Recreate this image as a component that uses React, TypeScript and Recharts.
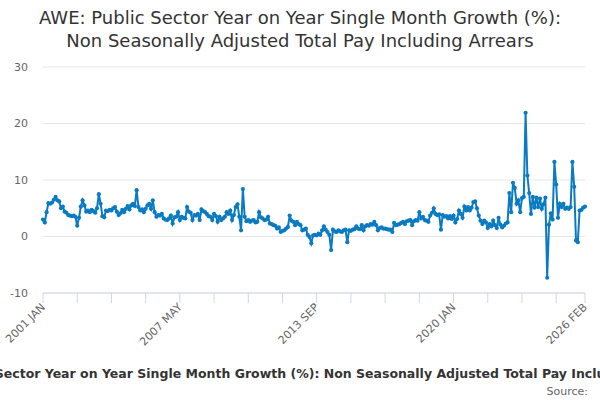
import { LineChart, Line, XAxis, YAxis, CartesianGrid } from 'recharts';

const MONTHS = ['JAN', 'FEB', 'MAR', 'APR', 'MAY', 'JUN', 'JUL', 'AUG', 'SEP', 'OCT', 'NOV', 'DEC'];
const FIRST_YEAR = 2001;

// monthly values, 2001 JAN .. 2026 FEB, one row per year
const growth = [
  3.0, 2.5, 4.3, 5.9, 5.8, 6.0, 6.5, 7.0, 6.4, 6.2, 5.0, 5.3,
  4.4, 4.2, 3.8, 3.7, 3.6, 3.7, 3.5, 1.9, 3.3, 5.3, 6.4, 5.5,
  4.4, 4.6, 4.3, 4.7, 4.5, 4.2, 5.0, 7.5, 5.8, 3.6, 3.4, 4.6,
  4.5, 4.7, 4.6, 5.0, 5.2, 4.4, 3.8, 4.1, 4.7, 4.3, 4.9, 5.4,
  4.8, 5.5, 5.8, 5.4, 8.2, 5.2, 4.6, 4.8, 4.3, 4.9, 5.5, 5.8,
  4.9, 6.4, 4.3, 3.5, 3.8, 3.7, 4.0, 3.2, 3.0, 2.9, 3.2, 3.7,
  2.3, 3.4, 3.5, 4.3, 2.9, 3.5, 3.3, 3.2, 5.2, 4.4, 4.2, 2.9,
  3.8, 3.7, 4.0, 2.9, 4.8, 4.5, 4.3, 4.0, 3.6, 3.5, 2.9, 4.0,
  3.6, 2.6, 3.5, 2.9, 3.2, 3.5, 4.3, 4.0, 4.6, 2.9, 3.8, 5.2,
  5.7, 3.5, 1.1, 8.4, 3.5, 2.7, 2.9, 2.6, 2.8, 2.9, 2.5, 2.6,
  4.3, 3.4, 3.2, 2.9, 3.0, 3.5, 2.3, 2.2, 2.0, 1.9, 1.4, 1.6,
  0.8, 1.0, 1.1, 1.4, 1.7, 3.7, 2.8, 2.6, 2.0, 2.6, 2.2, 2.0,
  1.1, 1.2, 1.4, 0.3, -0.1, -1.2, 0.2, 0.3, 0.2, 0.5, 0.3, 1.1,
  1.8, 1.2, 0.8, 0.3, -2.4, 1.2, 0.9, 0.8, 1.1, 0.9, 0.8, 1.1,
  1.2, -1.0, 1.1, 1.0, 1.2, 1.3, 1.8, 1.4, 1.3, 2.0, 1.1, 1.8,
  2.0, 1.9, 2.2, 2.1, 2.6, 2.0, 1.1, 1.5, 1.6, 1.4, 1.4, 1.3,
  1.2, 1.2, 0.8, 2.4, 2.0, 2.1, 2.2, 2.4, 2.6, 2.2, 2.7, 2.8,
  2.9, 2.0, 2.7, 2.9, 2.8, 4.3, 3.2, 3.5, 2.9, 2.8, 2.6, 3.7,
  4.2, 5.0, 4.0, 3.8, 3.9, 1.2, 3.8, 3.5, 3.6, 3.2, 3.6, 3.1,
  3.7, 2.5, 3.1, 4.6, 4.0, 3.3, 5.3, 4.6, 5.2, 4.6, 5.1, 6.1,
  6.2, 5.0, 3.7, 2.8, 2.2, 2.8, 2.5, 1.5, 2.2, 1.8, 2.8, 2.0,
  1.5, 3.3, 2.1, 1.6, 1.9, 2.3, 2.5, 7.7, 4.3, 9.5, 8.6, 5.8,
  6.4, 4.3, 6.8, 7.0, 21.9, 10.8, 7.7, 4.0, 7.0, 5.1, 6.9, 5.2,
  6.7, 4.9, 5.7, 6.9, -7.3, 2.1, 4.1, 3.0, 13.2, 9.2, 3.3, 5.8,
  5.2, 5.8, 4.9, 5.1, 4.9, 5.2, 13.2, 8.8, -0.7, -1.0, 4.6, 4.7,
  5.1, 5.3,
];

const labelTicks = ['2001 JAN', '2007 MAY', '2013 SEP', '2020 JAN', '2026 FEB'];
const yTicks = [-10, 0, 10, 20, 30];

const data = growth.map((value, i) => ({
  date: `${FIRST_YEAR + Math.floor(i / 12)} ${MONTHS[i % 12]}`,
  value,
}));

// minor tick every 19 months plus the last month
const xTicks = data.filter((_, i) => i % 19 === 0 && i + 19 <= data.length + 2).map((d) => d.date);
xTicks.push(data[data.length - 1].date);

const TITLE = 'AWE: Public Sector Year on Year Single Month Growth (%): Non Seasonally Adjusted Total Pay Including Arrears';

function DateTick({ x, y, payload }: any) {
  if (!labelTicks.includes(payload.value)) return null;
  return (
    <text
      x={x}
      y={y}
      dy={4}
      textAnchor="end"
      transform={`rotate(-45, ${x}, ${y})`}
      fill="#666666"
      fontSize={11}
      fontFamily="DejaVu Sans"
    >
      {payload.value}
    </text>
  );
}

export default function App() {
  return (
    <div style={{ position: 'absolute', left: 0, top: 0, width: 600, height: 400, background: '#fff' }}>
      <LineChart
        width={600}
        height={400}
        data={data}
        margin={{ top: 67, right: 15, left: 0, bottom: 47 }}
      >
        <CartesianGrid vertical={false} stroke="#e6e6e6" />
        <XAxis
          dataKey="date"
          ticks={xTicks}
          interval={0}
          height={60}
          stroke="#ccd6eb"
          tickLine={{ stroke: '#ccd6eb' }}
          tickSize={10}
          tick={<DateTick />}
        />
        <YAxis
          domain={[-10, 30]}
          ticks={yTicks}
          width={43}
          axisLine={false}
          tickLine={false}
          tickMargin={9}
          tick={{ fill: '#666666', fontSize: 11, fontFamily: 'DejaVu Sans' }}
        />
        <Line
          type="linear"
          dataKey="value"
          stroke="#0a7bc2"
          strokeWidth={2}
          dot={{ r: 2.1, fill: '#0a7bc2', stroke: '#0a7bc2', strokeWidth: 0 }}
          isAnimationActive={false}
        />
      </LineChart>
      <svg width={600} height={400} style={{ position: 'absolute', left: 0, top: 0, pointerEvents: 'none' }}>
        <g fontFamily="DejaVu Sans" fill="#333333" textAnchor="middle">
          <text x={300} y={24} fontSize={18}>AWE: Public Sector Year on Year Single Month Growth (%):</text>
          <text x={300} y={47} fontSize={18}>Non Seasonally Adjusted Total Pay Including Arrears</text>
          <text x={300} y={378} fontSize={12.5} fontWeight="bold">{TITLE}</text>
        </g>
        <text x={588} y={395} fontSize={11} fill="#666666" textAnchor="end" fontFamily="DejaVu Sans">
          Source:
        </text>
      </svg>
    </div>
  );
}
